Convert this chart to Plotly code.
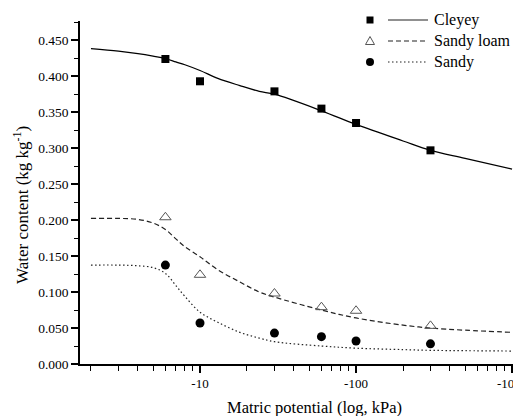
import plotly.graph_objects as go

# ---------------- data ----------------
psi_obs = [6, 10, 30, 60, 100, 300]                     # |matric potential| (kPa)
cleyey_obs = [0.424, 0.393, 0.379, 0.355, 0.335, 0.297]
sandy_loam_obs = [0.204, 0.124, 0.098, 0.079, 0.074, 0.053]
sandy_obs = [0.1375, 0.057, 0.043, 0.038, 0.032, 0.028]

psi_fit = [2, 3, 4, 5, 6, 7, 8, 10, 13, 18, 24, 30, 60, 100, 200, 300, 500, 1000]
cleyey_fit = [0.4385, 0.435, 0.4315, 0.428, 0.4246, 0.420, 0.416, 0.408, 0.397, 0.387,
              0.379, 0.375, 0.352, 0.333, 0.310, 0.297, 0.286, 0.271]
sandy_loam_fit = [0.2024, 0.2024, 0.201, 0.196, 0.187, 0.174, 0.163, 0.149, 0.131, 0.114,
                  0.100, 0.093, 0.075, 0.064, 0.054, 0.050, 0.047, 0.044]
sandy_fit = [0.1375, 0.1375, 0.1365, 0.134, 0.126, 0.109, 0.094, 0.072, 0.058, 0.044,
             0.036, 0.031, 0.025, 0.022, 0.020, 0.019, 0.0185, 0.018]

x_tickvals = [10, 100, 1000]
x_ticktext = ["-10", "-100", "-1000"]
x_minorvals = [2, 3, 4, 5, 6, 7, 8, 9, 20, 30, 40, 50, 60, 70, 80, 90,
               200, 300, 400, 500, 600, 700, 800, 900]
y_tickvals = [0.0, 0.05, 0.10, 0.15, 0.20, 0.25, 0.30, 0.35, 0.40, 0.45]
y_ticktext = ["0.000", "0.050", "0.100", "0.150", "0.200", "0.250",
              "0.300", "0.350", "0.400", "0.450"]
series_names = ["Cleyey", "Sandy loam", "Sandy"]

# ---------------- layout constants ----------------
W, H = 513, 416
ML, MR, MT, MB = 80, 0, 21, 52
PW, PH = W - ML - MR, H - MT - MB
FONT = "Liberation Serif"


def px_x(px):
    return (px - ML) / PW


def px_y(py):
    return (H - MB - py) / PH


fig = go.Figure()

# fitted curves
fig.add_trace(go.Scatter(x=psi_fit, y=cleyey_fit, mode="lines", line_shape="spline",
                         line=dict(color="black", width=1.3), showlegend=False))
fig.add_trace(go.Scatter(x=psi_fit, y=sandy_loam_fit, mode="lines", line_shape="spline",
                         line=dict(color="#222222", width=1.2, dash="5px,3px"), showlegend=False))
fig.add_trace(go.Scatter(x=psi_fit, y=sandy_fit, mode="lines", line_shape="spline",
                         line=dict(color="#222222", width=1.2, dash="1.5px,2.5px"), showlegend=False))

# observed points
fig.add_trace(go.Scatter(x=psi_obs, y=cleyey_obs, mode="markers",
                         marker=dict(symbol="square", size=8, color="black"), showlegend=False))
fig.add_trace(go.Scatter(x=psi_obs, y=sandy_loam_obs, mode="markers",
                         marker=dict(symbol="triangle-up-open", size=10, color="#555555",
                                     line=dict(width=1)), showlegend=False))
fig.add_trace(go.Scatter(x=psi_obs, y=sandy_obs, mode="markers",
                         marker=dict(symbol="circle", size=9, color="black"), showlegend=False))

# ---------------- custom legend ----------------
rows_py = [20, 41, 62]
mx = px_x(370)
lx0, lx1 = px_x(388), px_x(428)
tx = px_x(432)
shapes = []
annotations = []
dashes = ["solid", "5px,3px", "1.5px,2.5px"]
for i, (name, py) in enumerate(zip(series_names, rows_py)):
    yy = px_y(py)
    shapes.append(dict(type="line", xref="paper", yref="paper", x0=lx0, x1=lx1, y0=yy, y1=yy,
                       line=dict(color="#222222", width=1.2, dash=dashes[i])))
    annotations.append(dict(text=name, x=tx, y=yy, xref="paper", yref="paper",
                            xanchor="left", yanchor="middle", showarrow=False,
                            font=dict(family=FONT, size=16, color="black")))
# legend symbols
yy = px_y(rows_py[0])
shapes.append(dict(type="rect", xref="paper", yref="paper", xsizemode="pixel", ysizemode="pixel",
                   xanchor=mx, yanchor=yy, x0=-3.5, x1=3.5, y0=-3.5, y1=3.5,
                   fillcolor="black", line=dict(width=0)))
yy = px_y(rows_py[1])
shapes.append(dict(type="path", xref="paper", yref="paper", xsizemode="pixel", ysizemode="pixel",
                   xanchor=mx, yanchor=yy, path="M -4.5 -3.5 L 4.5 -3.5 L 0 4.5 Z",
                   fillcolor="rgba(0,0,0,0)", line=dict(color="#555555", width=1)))
yy = px_y(rows_py[2])
shapes.append(dict(type="circle", xref="paper", yref="paper", xsizemode="pixel", ysizemode="pixel",
                   xanchor=mx, yanchor=yy, x0=-4, x1=4, y0=-4, y1=4,
                   fillcolor="black", line=dict(width=0)))

# axis titles
annotations.append(dict(text="Matric potential (log, kPa)", x=px_x(314), y=px_y(407),
                        xref="paper", yref="paper", xanchor="center", yanchor="middle",
                        showarrow=False, font=dict(family=FONT, size=16.5, color="black")))
annotations.append(dict(text="Water content (kg kg<sup>-1</sup>)", x=px_x(21), y=px_y(205),
                        xref="paper", yref="paper", xanchor="center", yanchor="middle",
                        textangle=-90, showarrow=False,
                        font=dict(family=FONT, size=17, color="black")))

fig.update_layout(
    template="none",
    width=W, height=H,
    margin=dict(l=ML, r=MR, t=MT, b=MB, pad=0),
    paper_bgcolor="white", plot_bgcolor="white",
    showlegend=False,
    shapes=shapes,
    annotations=annotations,
    font=dict(family=FONT, color="black"),
)

fig.update_xaxes(
    type="log", range=[0.2308, 3.006], autorange=False,
    showline=True, linecolor="black", linewidth=1.5, mirror=False,
    ticks="outside", ticklen=7, tickwidth=1.5, tickcolor="black",
    tickmode="array", tickvals=x_tickvals, ticktext=x_ticktext,
    ticklabeloverflow="allow",
    tickfont=dict(family=FONT, size=13, color="black"),
    minor=dict(tickmode="array", tickvals=x_minorvals, ticks="outside",
               ticklen=5, tickwidth=1.2, tickcolor="black", showgrid=False),
    showgrid=False, zeroline=False, automargin=False,
)
fig.update_yaxes(
    range=[0, 0.4768], autorange=False,
    showline=True, linecolor="black", linewidth=1.5, mirror=False,
    ticks="outside", ticklen=7, tickwidth=1.5, tickcolor="black",
    tickmode="array", tickvals=y_tickvals, ticktext=y_ticktext,
    tickfont=dict(family=FONT, size=13.5, color="black"),
    minor=dict(dtick=0.025, tick0=0, ticks="outside", ticklen=4, tickwidth=1.2,
               tickcolor="black", showgrid=False),
    showgrid=False, zeroline=False, automargin=False,
)

fig.write_html("out.html")
